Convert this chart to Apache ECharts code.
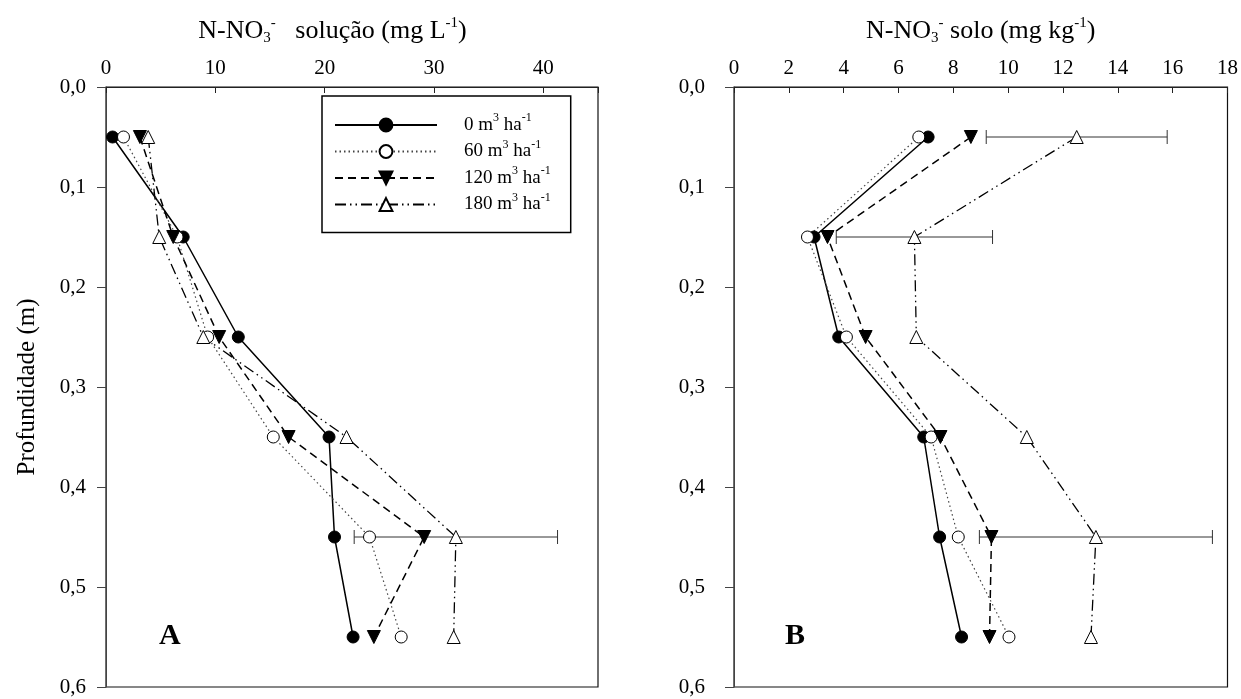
<!DOCTYPE html>
<html>
<head>
<meta charset="utf-8">
<script src="https://cdn.jsdelivr.net/npm/echarts@6/dist/echarts.min.js"></script>
<style>
  html, body { margin: 0; padding: 0; background: #fff; }
  #chart { width: 1241px; height: 699px; }
</style>
</head>
<body>
<div id="chart"></div>
<script>
// Sampling depths (m)
const depths = [0.05, 0.15, 0.25, 0.35, 0.45, 0.55];
const doses = ['0', '60', '120', '180'];

// N-NO3- in soil solution (mg L-1), one array per dose (m3 ha-1)
const solucao0   = [0.6, 7.06, 12.1, 20.4, 20.9, 22.6];
const solucao60  = [1.6, 6.5, 9.3, 15.3, 24.1, 27.0];
const solucao120 = [3.1, 6.15, 10.35, 16.7, 29.1, 24.5];
const solucao180 = [3.86, 4.87, 8.9, 22.0, 32.0, 31.8];
const solucaoErr180 = [null, null, null, null, 9.3, null];

// N-NO3- in soil (mg kg-1)
const solo0   = [7.08, 2.92, 3.82, 6.92, 7.5, 8.3];
const solo60  = [6.74, 2.68, 4.1, 7.19, 8.18, 10.03];
const solo120 = [8.64, 3.41, 4.8, 7.53, 9.39, 9.32];
const solo180 = [12.5, 6.58, 6.65, 10.68, 13.2, 13.02];
const soloErr180 = [3.3, 2.85, null, null, 4.25, null];

// Tick labels
const depthLabel = v => v.toFixed(1).replace('.', ',');

const FONT = 'Liberation Serif';

const styles = {
  '0':   { symbol: 'circle',   size: 12, rotate: 0,   fill: '#000', line: { color: '#000', width: 1.5, type: 'solid' } },
  '60':  { symbol: 'circle',   size: 12, rotate: 0,   fill: '#fff', line: { color: '#444', width: 1.2, type: [1.5, 3] } },
  '120': { symbol: 'triangle', size: 13, rotate: 180, fill: '#000', line: { color: '#000', width: 1.5, type: [8, 5] } },
  '180': { symbol: 'triangle', size: 13, rotate: 0,   fill: '#fff', line: { color: '#000', width: 1.3, type: [11, 4, 1.5, 4, 1.5, 4] } }
};

function lineSeries(name, values, idx) {
  const s = styles[name];
  return {
    name: name,
    type: 'line',
    xAxisIndex: idx, yAxisIndex: idx,
    data: values.map((v, i) => [v, depths[i]]),
    symbol: s.symbol,
    symbolSize: s.size,
    symbolRotate: s.rotate,
    showAllSymbol: true,
    itemStyle: { color: s.fill, borderColor: '#000', borderWidth: 1 },
    lineStyle: s.line,
    emphasis: { disabled: true },
    z: 3,
    animation: false
  };
}

function errorSeries(values, errs, idx) {
  const data = [];
  errs.forEach((e, i) => { if (e != null) data.push([values[i], depths[i], e]); });
  return {
    name: 'erro' + idx,
    type: 'custom',
    xAxisIndex: idx, yAxisIndex: idx,
    data: data,
    z: 2,
    animation: false,
    renderItem: function (params, api) {
      const x = api.value(0), y = api.value(1), e = api.value(2);
      const a = api.coord([x - e, y]);
      const b = api.coord([x + e, y]);
      const h = 7;
      const st = { stroke: '#333', lineWidth: 1 };
      return {
        type: 'group',
        children: [
          { type: 'line', shape: { x1: a[0], y1: a[1], x2: b[0], y2: b[1] }, style: st },
          { type: 'line', shape: { x1: a[0], y1: a[1] - h, x2: a[0], y2: a[1] + h }, style: st },
          { type: 'line', shape: { x1: b[0], y1: b[1] - h, x2: b[0], y2: b[1] + h }, style: st }
        ]
      };
    }
  };
}

const richText = {
  t:   { fontSize: 26, fontFamily: FONT, color: '#000', lineHeight: 30 },
  sup: { fontSize: 15, fontFamily: FONT, color: '#000', lineHeight: 14, verticalAlign: 'top' },
  sub: { fontSize: 15, fontFamily: FONT, color: '#000', lineHeight: 10, verticalAlign: 'bottom' }
};

function xAxis(idx, max, interval, name) {
  return {
    type: 'value',
    gridIndex: idx,
    position: 'top',
    min: 0, max: max, interval: interval,
    name: name,
    nameLocation: 'middle',
    nameGap: 41,
    nameTextStyle: { fontFamily: FONT, fontSize: 26, color: '#000', rich: richText },
    axisLine: { show: true, lineStyle: { color: '#222', width: 1 } },
    axisTick: { show: true, inside: true, length: 6, lineStyle: { color: '#222' } },
    axisLabel: {
      fontFamily: FONT, fontSize: 21, color: '#000', margin: 8,
      formatter: v => (v % interval === 0 ? String(v) : '')
    },
    splitLine: { show: false }
  };
}

function yAxis(idx, withName, margin) {
  return {
    type: 'value',
    gridIndex: idx,
    inverse: true,
    min: 0, max: 0.6, interval: 0.1,
    name: withName ? 'Profundidade (m)' : '',
    nameLocation: 'middle',
    nameGap: 66,
    nameTextStyle: { fontFamily: FONT, fontSize: 25, color: '#000' },
    axisLine: { show: true, lineStyle: { color: '#444', width: 1 } },
    axisTick: { show: true, inside: false, length: 9, lineStyle: { color: '#444' } },
    axisLabel: { fontFamily: FONT, fontSize: 21, color: '#000', margin: margin, formatter: depthLabel },
    splitLine: { show: false }
  };
}

const option = {
  backgroundColor: '#fff',
  animation: false,
  title: [
    { text: 'A', left: 154, top: 616, textStyle: { fontFamily: FONT, fontSize: 30, fontWeight: 'bold', color: '#000' } },
    { text: 'B', left: 780, top: 616, textStyle: { fontFamily: FONT, fontSize: 30, fontWeight: 'bold', color: '#000' } }
  ],
  grid: [
    { left: 106, top: 87, width: 492, height: 600, show: true, borderColor: '#111', borderWidth: 1.2, backgroundColor: 'transparent' },
    { left: 734, top: 87, width: 494, height: 600, show: true, borderColor: '#111', borderWidth: 1.2, backgroundColor: 'transparent' }
  ],
  xAxis: [
    xAxis(0, 45, 10, '{t|N-NO}{sub|3}{sup|-}{t|   solução (mg L}{sup|-1}{t|)      }'),
    xAxis(1, 18, 2, '{t|N-NO}{sub|3}{sup|-}{t| solo (mg kg}{sup|-1}{t|)}')
  ],
  yAxis: [yAxis(0, true, 20), yAxis(1, false, 29)],
  legend: {
    data: doses,
    orient: 'vertical',
    left: 322, top: 96,
    padding: [16, 20, 15, 12],
    itemWidth: 102,
    itemHeight: 16,
    itemGap: 0.5,
    borderColor: '#000',
    borderWidth: 1.5,
    backgroundColor: '#fff',
    selectedMode: false,
    formatter: name => '{t|' + name + ' m}{sup|3}{t| ha}{sup|-1}',
    textStyle: {
      fontFamily: FONT, fontSize: 19, color: '#000', padding: [0, 0, 0, 22], lineHeight: 26,
      rich: {
        t: { fontFamily: FONT, fontSize: 19, color: '#000', lineHeight: 26 },
        sup: { fontFamily: FONT, fontSize: 12, color: '#000', lineHeight: 12, verticalAlign: 'top' }
      }
    }
  },
  series: [
    errorSeries(solucao180, solucaoErr180, 0),
    errorSeries(solo180, soloErr180, 1),
    lineSeries('0', solucao0, 0),
    lineSeries('60', solucao60, 0),
    lineSeries('120', solucao120, 0),
    lineSeries('180', solucao180, 0),
    lineSeries('0', solo0, 1),
    lineSeries('60', solo60, 1),
    lineSeries('120', solo120, 1),
    lineSeries('180', solo180, 1)
  ]
};

const chart = echarts.init(document.getElementById('chart'), null, { renderer: 'canvas' });
chart.setOption(option);
</script>
</body>
</html>
